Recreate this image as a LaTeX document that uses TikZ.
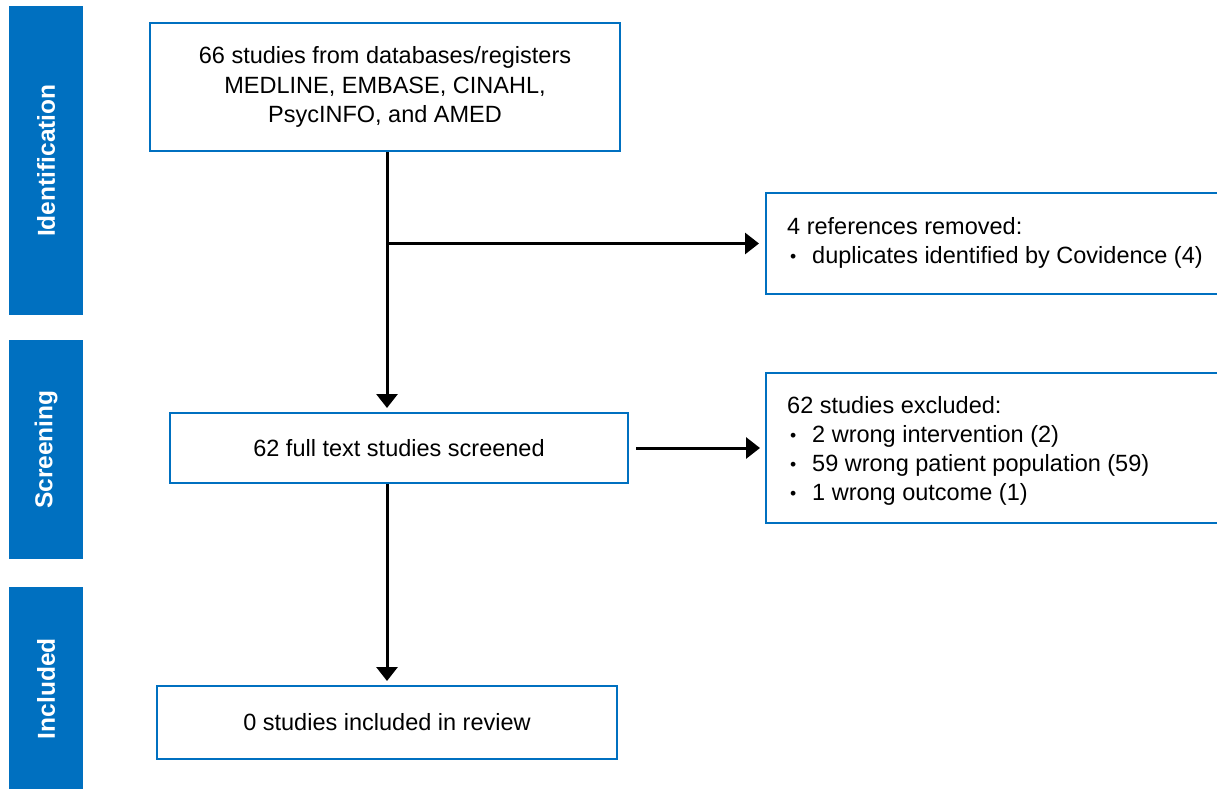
\documentclass[tikz,border=0pt]{standalone}
\usepackage{fontspec}
\setmainfont{Liberation Sans}
\usetikzlibrary{arrows.meta}
\definecolor{prisma}{RGB}{0,112,192}
\newcommand{\bul}{\makebox[25pt][l]{\hspace{3pt}\raisebox{1pt}{\scalebox{0.75}{•}}}}
\begin{document}
\begin{tikzpicture}[x=1pt,y=-1pt,
  sidebar/.style={fill=prisma,draw=none,inner sep=0pt},
  sidelabel/.style={text=white,font=\fontsize{24.5}{28}\selectfont\bfseries,rotate=90},
  flowbox/.style={draw=prisma,line width=2pt,fill=white,inner sep=0pt,align=center,
    font=\fontsize{23.5}{29.5}\selectfont},
  sidebox/.style={draw=prisma,line width=2pt,fill=white,inner sep=0pt,anchor=north west},
  listtext/.style={anchor=west,align=left,inner sep=0pt,font=\fontsize{23.5}{29}\selectfont},
  flowarrow/.style={line width=3pt,-{Triangle[length=14pt,width=21pt]}}]
\useasboundingbox (0,0) rectangle (1217,789);
\fill[white] (0,0) rectangle (1217,789);

% side bars
\node[sidebar,minimum width=74pt,minimum height=309pt,anchor=north west] (barI) at (9,6) {};
\node[sidelabel] at (barI.center) {Identification};
\node[sidebar,minimum width=74pt,minimum height=219pt,anchor=north west] (barS) at (9,340) {};
\node[sidelabel] at (barS.center) {Screening};
\node[sidebar,minimum width=74pt,minimum height=203pt,anchor=north west] (barN) at (9,587) {};
\node[sidelabel] at (barN.center) {Included};

% main boxes
\node[flowbox,minimum width=470pt,minimum height=128pt] (ident) at (385,87)
  {66 studies from databases/registers\\MEDLINE, EMBASE, CINAHL,\\PsycINFO, and AMED};
\node[flowbox,minimum width=458pt,minimum height=70pt] (screen) at (399,448)
  {62 full text studies screened};
\node[flowbox,minimum width=460pt,minimum height=73pt] (incl) at (387,722.5)
  {0 studies included in review};

% side boxes
\node[sidebox,minimum width=470pt,minimum height=101pt] (removed) at (765,192) {};
\node[listtext] (removedtxt) at (787,243)
  {4 references removed:\\\bul duplicates identified by Covidence (4)};
\node[sidebox,minimum width=470pt,minimum height=150pt] (excluded) at (765,372) {};
\node[listtext] (excludedtxt) at (787,451)
  {62 studies excluded:\\
   \bul 2 wrong intervention (2)\\
   \bul 59 wrong patient population (59)\\
   \bul 1 wrong outcome (1)};

% connectors
\coordinate (top) at (ident.south -| incl.north);
\coordinate (branch) at (top |- removed.west);
\draw[line width=3pt] (top) -- (branch);
\draw[flowarrow,shorten >=6pt] (branch) -- (removed.west);
\draw[flowarrow,shorten >=4pt] (branch) -- (screen.north -| top);
\draw[flowarrow,shorten <=7pt,shorten >=5pt] (screen.east) -- (excluded.west |- screen.east);
\draw[flowarrow,shorten >=4pt] (screen.south -| incl.north) -- (incl.north);
\end{tikzpicture}
\end{document}
